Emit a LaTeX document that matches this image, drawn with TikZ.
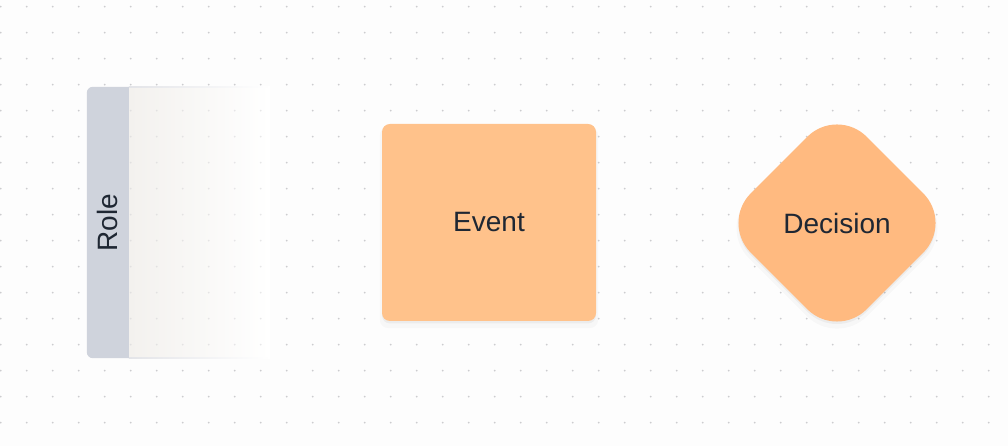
\documentclass[tikz,border=0pt]{standalone}
\usepackage{fontspec}
\setmainfont{Liberation Sans}
\usetikzlibrary{shapes.geometric, shadows, positioning}
\definecolor{canvas}{HTML}{FDFDFD}
\definecolor{griddot}{HTML}{CCCCCF}
\definecolor{lanebar}{HTML}{CFD3DC}
\definecolor{laneleft}{HTML}{F3F1EE}
\definecolor{lanerule}{HTML}{E3E4E8}
\definecolor{eventfill}{HTML}{FFC28B}
\definecolor{decisionfill}{HTML}{FFBA80}
\definecolor{ink}{HTML}{1F2733}

\begin{document}
\begin{tikzpicture}[x=1pt, y=1pt,
    label/.style={font=\fontsize{28}{33}\selectfont, text=ink},
    softshadow/.style={general shadow={shadow yshift=-5pt, shadow scale=1.02, fill=black, opacity=0.025},
                       general shadow={shadow yshift=-2.5pt, fill=black, opacity=0.045}},
    lanebody/.style={rectangle, inner sep=0, minimum width=141, minimum height=271,
                     left color=laneleft, right color=white},
    eventbox/.style={rectangle, rounded corners=8, inner sep=0, minimum width=214,
                     minimum height=197, fill=eventfill, softshadow, label},
    decisionbox/.style={diamond, rounded corners=42, inner sep=0, minimum width=232,
                        minimum height=232, fill=decisionfill, softshadow, label}]

    % canvas and dotted grid
    \useasboundingbox (0,0) rectangle (1008,446);
    \fill[canvas] (0,0) rectangle (1008,446);
    \foreach \i in {0,...,38}
        \foreach \j in {0,...,16}
            \fill[griddot] (0.7+26*\i, 439.3-26*\j) circle (1);

    % swimlane
    \node[lanebody] (lane) at (199.5,223.5) {};
    \foreach \i in {5,...,10}
        \foreach \j in {4,...,13}
            \fill[griddot, opacity=0.45] (0.7+26*\i, 439.3-26*\j) circle (1);
    \shade[left color=lanerule, right color=white] (lane.north west) rectangle ([yshift=-1]lane.north east);
    \shade[left color=lanerule, right color=white] (lane.south west) rectangle ([yshift=1]lane.south east);
    \fill[lanebar] (lane.north west) -- ++(-36,0) arc[start angle=90, end angle=180, radius=6]
        -- ([xshift=-42, yshift=6]lane.south west) arc[start angle=180, end angle=270, radius=6]
        -- (lane.south west) -- cycle;
    \node[label, rotate=90] (role) at ([xshift=-21]lane.west) {Role};

    % shapes
    \node[eventbox] (event) at (489,223.5) {Event};
    \node[decisionbox] (decision) at (837,223) {Decision};
\end{tikzpicture}
\end{document}
